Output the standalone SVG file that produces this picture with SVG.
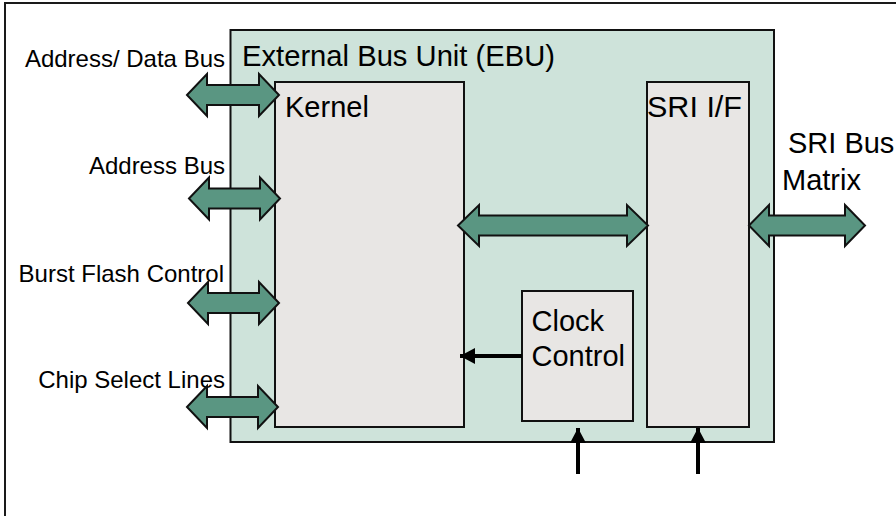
<svg xmlns="http://www.w3.org/2000/svg" width="896" height="516" viewBox="0 0 896 516">
<style>
.frame{fill:#ffffff;stroke:#1a1a1a;stroke-width:2}
.ebu{fill:#cee3da;stroke:#111;stroke-width:2}
.blk{fill:#e8e6e4;stroke:#111;stroke-width:2}
.big{font-family:"Liberation Sans",Arial,sans-serif;font-size:29px;fill:#000}
.sm{font-family:"Liberation Sans",Arial,sans-serif;font-size:24px;fill:#000;text-anchor:end}
.bus{fill:#5a9682;stroke:#111;stroke-width:2;stroke-linejoin:miter}
.sig{stroke:#000;stroke-width:4;fill:none}
</style>
<defs>
<marker id="ah" markerUnits="userSpaceOnUse" markerWidth="16" markerHeight="16" refX="15" refY="8" orient="auto">
<path d="M0,0 L15,8 L0,16 Z" fill="#000"/>
</marker>
</defs>
<rect class="frame" x="5" y="3" width="900" height="520"/>
<g id="ebu">
<rect class="ebu" x="230.5" y="30" width="543.5" height="412"/>
<text class="big" x="242" y="66" textLength="313" lengthAdjust="spacingAndGlyphs">External Bus Unit (EBU)</text>
</g>
<g id="kernel">
<rect class="blk" x="275" y="82" width="189" height="345"/>
<text class="big" x="285" y="117">Kernel</text>
</g>
<g id="sri-if">
<rect class="blk" x="647" y="82" width="102" height="345"/>
<text class="big" x="647" y="117" textLength="95" lengthAdjust="spacingAndGlyphs">SRI I/F</text>
</g>
<g id="clock-control">
<rect class="blk" x="522" y="291" width="111" height="130"/>
<text class="big" x="531.5" y="331">Clock</text>
<text class="big" x="531.5" y="366">Control</text>
</g>
<g id="labels">
<text class="sm" x="225" y="67">Address/ Data Bus</text>
<text class="sm" x="225" y="174">Address Bus</text>
<text class="sm" x="224" y="282">Burst Flash Control</text>
<text class="sm" x="225" y="388">Chip Select Lines</text>
<text class="big" x="788" y="153">SRI Bus</text>
<text class="big" x="782" y="190">Matrix</text>
</g>
<g id="connectors">
<path class="bus" d="M187,95 L207,74 L207,85 L259,85 L259,74 L279,95 L259,116 L259,105 L207,105 L207,116 Z"/>
<path class="bus" d="M189,198.5 L209,177.5 L209,188.5 L260,188.5 L260,177.5 L280,198.5 L260,219.5 L260,208.5 L209,208.5 L209,219.5 Z"/>
<path class="bus" d="M188,303 L208,282 L208,293 L259,293 L259,282 L279,303 L259,324 L259,313 L208,313 L208,324 Z"/>
<path class="bus" d="M187,407 L207,386 L207,397 L258,397 L258,386 L278,407 L258,428 L258,417 L207,417 L207,428 Z"/>
<path class="bus" d="M458,225.5 L479,205 L479,215.5 L627,215.5 L627,205 L648,225.5 L627,246 L627,235.5 L479,235.5 L479,246 Z"/>
<path class="bus" d="M749,225.5 L769,205 L769,215.5 L845,215.5 L845,205 L865,225.5 L845,246 L845,235.5 L769,235.5 L769,246 Z"/>
<line class="sig" x1="522" y1="356" x2="460" y2="356" marker-end="url(#ah)"/>
<line class="sig" x1="578" y1="474" x2="578" y2="428" marker-end="url(#ah)"/>
<line class="sig" x1="698" y1="474" x2="698" y2="428" marker-end="url(#ah)"/>
</g>
</svg>
